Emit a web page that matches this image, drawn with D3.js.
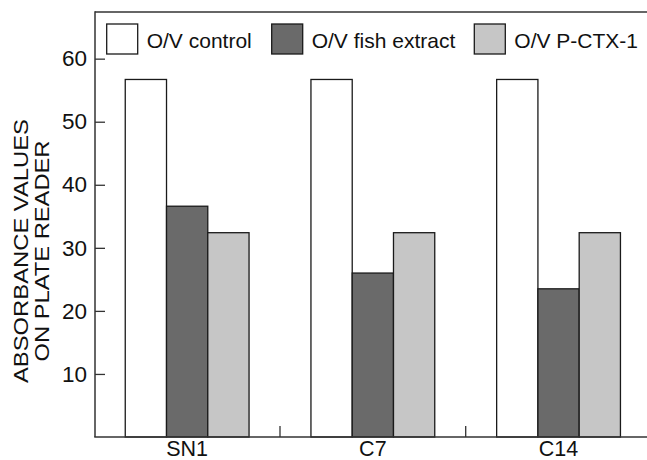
<!DOCTYPE html>
<html>
<head>
<meta charset="utf-8">
<script src="https://cdn.jsdelivr.net/npm/d3@7/dist/d3.min.js"></script>
<style>
  html, body { margin: 0; padding: 0; background: #fff; }
  svg { display: block; font-family: "Liberation Sans", Arial, Helvetica, sans-serif; }
</style>
</head>
<body>
<svg id="chart" width="647" height="460"></svg>
<script>
const categories = ["SN1", "C7", "C14"];
const seriesNames = ["O/V control", "O/V fish extract", "O/V P-CTX-1"];
const controlValues = [56.7, 56.7, 56.7];
const fishExtractValues = [36.6, 26.0, 23.5];
const pctxValues = [32.4, 32.4, 32.4];
const yTicks = [10, 20, 30, 40, 50, 60];
const yTitleLines = ["ABSORBANCE VALUES", "ON PLATE READER"];
const seriesColors = ["#ffffff", "#6a6a6a", "#c6c6c6"];

(function () {
const seriesValues = [controlValues, fishExtractValues, pctxValues];
const rows = categories.map((c, i) => ({
  cat: c,
  vals: seriesNames.map((s, j) => ({ key: s, idx: j, value: seriesValues[j][i] }))
}));

const svg = d3.select("#chart");
const W = 647;
const mLeft = 95, mTop = 12, mBottom = 437;

const y = d3.scaleLinear().domain([0, 67.4]).range([mBottom, mTop]);
const x0 = d3.scaleBand().domain(categories).range([94.3, 651.4]).padding(0);
const x1 = d3.scaleBand().domain(seriesNames).range([0, x0.bandwidth()]).paddingInner(0).paddingOuter(0.75);
const color = d3.scaleOrdinal().domain(seriesNames).range(seriesColors);

// bars
const g = svg.append("g");
g.selectAll("g.grp").data(rows).join("g")
  .attr("class", "grp")
  .attr("transform", d => `translate(${x0(d.cat)},0)`)
  .selectAll("rect").data(d => d.vals).join("rect")
  .attr("x", d => x1(d.key))
  .attr("y", d => y(d.value))
  .attr("width", x1.bandwidth())
  .attr("height", d => y(0) - y(d.value))
  .attr("fill", d => color(d.key))
  .attr("stroke", "#1a1a1a")
  .attr("stroke-width", 1.3);

// frame: top line
svg.append("line")
  .attr("x1", mLeft).attr("x2", W).attr("y1", mTop).attr("y2", mTop)
  .attr("stroke", "#333").attr("stroke-width", 1.5);

// y axis
const yAxis = d3.axisLeft(y).tickValues(yTicks).tickSizeInner(-10).tickSizeOuter(0).tickPadding(8);
const ya = svg.append("g").attr("transform", `translate(${mLeft},0)`).call(yAxis);
ya.select(".domain").remove();
ya.selectAll(".tick line").attr("stroke", "#333").attr("stroke-width", 1.3);
ya.selectAll(".tick text").attr("font-size", 22.5).attr("fill", "#111")
  .attr("font-family", "'Liberation Sans', Arial, sans-serif");
svg.append("line")
  .attr("x1", mLeft).attr("x2", mLeft).attr("y1", mTop - 0.75).attr("y2", mBottom)
  .attr("stroke", "#333").attr("stroke-width", 1.5);

// x axis
const xAxis = d3.axisBottom(x0).tickSize(0).tickPadding(3.5);
const xa = svg.append("g").attr("transform", `translate(0,${mBottom})`).call(xAxis);
xa.select(".domain").remove();
xa.selectAll(".tick text").attr("font-size", 21.5).attr("fill", "#111")
  .attr("font-family", "'Liberation Sans', Arial, sans-serif");
svg.append("line")
  .attr("x1", mLeft - 0.75).attr("x2", W).attr("y1", mBottom).attr("y2", mBottom)
  .attr("stroke", "#333").attr("stroke-width", 1.5);

// group separators
svg.selectAll("line.sep").data(categories.slice(0, -1)).join("line")
  .attr("class", "sep")
  .attr("x1", d => x0(d) + x0.bandwidth()).attr("x2", d => x0(d) + x0.bandwidth())
  .attr("y1", mBottom).attr("y2", mBottom - 11)
  .attr("stroke", "#333").attr("stroke-width", 1.3);

// y title
const yt = svg.append("text")
  .attr("transform", "translate(0,251) rotate(-90)")
  .attr("text-anchor", "middle")
  .attr("font-size", 20).attr("fill", "#111");
yt.selectAll("tspan").data(yTitleLines).join("tspan")
  .attr("x", 0)
  .attr("y", (d, i) => 28 + i * 20.5)
  .attr("textLength", (d, i) => i === 0 ? 264 : 221)
  .attr("lengthAdjust", "spacingAndGlyphs")
  .text(d => d);

// legend
const legendX = [106.7, 271.7, 474.3];
const lg = svg.selectAll("g.leg").data(seriesNames).join("g")
  .attr("class", "leg")
  .attr("transform", (d, i) => `translate(${legendX[i]},24)`);
lg.append("rect")
  .attr("width", 31).attr("height", 30)
  .attr("fill", d => color(d))
  .attr("stroke", "#1a1a1a").attr("stroke-width", 1.3);
lg.append("text")
  .attr("x", 40).attr("y", 24)
  .attr("font-size", 21).attr("fill", "#111")
  .text(d => d);
})();
</script>
</body>
</html>
